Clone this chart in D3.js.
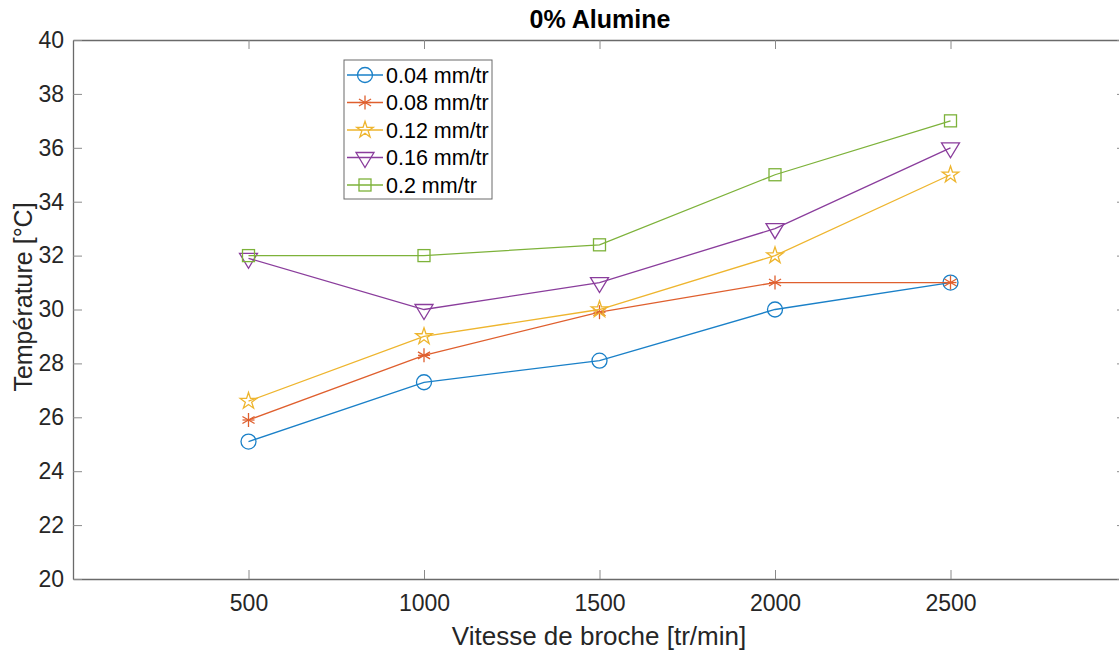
<!DOCTYPE html>
<html>
<head>
<meta charset="utf-8">
<script src="https://cdnjs.cloudflare.com/ajax/libs/d3/7.8.5/d3.min.js"></script>
<style>
  body { margin: 0; background: #fff; }
  svg { font-family: "Liberation Sans", Arial, Helvetica, sans-serif; }
</style>
</head>
<body>
<div id="chart"></div>
<script>
// data
var vitesse = [500, 1000, 1500, 2000, 2500];
var avances = ["0.04 mm/tr", "0.08 mm/tr", "0.12 mm/tr", "0.16 mm/tr", "0.2 mm/tr"];
var t004 = [25.1, 27.3, 28.1, 30.0, 31.0];
var t008 = [25.9, 28.3, 29.9, 31.0, 31.0];
var t012 = [26.6, 29.0, 30.0, 32.0, 35.0];
var t016 = [31.9, 30.0, 31.0, 33.0, 36.0];
var t020 = [32.0, 32.0, 32.4, 35.0, 37.0];
var xTicks = [500, 1000, 1500, 2000, 2500];
var yTicks = [20, 22, 24, 26, 28, 30, 32, 34, 36, 38, 40];

var colors = ["#1a80c8", "#df5f2e", "#eeb52e", "#8a3d9c", "#7db23a"];
var markers = ["circle", "asterisk", "star", "triangle", "square"];

var series = [t004, t008, t012, t016, t020].map(function (vals, i) {
    return {
        name: avances[i],
        color: colors[i],
        marker: markers[i],
        values: vals.map(function (v, j) { return { x: vitesse[j], y: v }; })
    };
});

// layout
var W = 1119, H = 652;
var margin = { top: 40, left: 73 },
    width = 1053,
    height = 539;

var svg = d3.select("#chart").append("svg")
    .attr("width", W)
    .attr("height", H);

var x = d3.scaleLinear().domain([0, 3000]).range([0, width]);
var y = d3.scaleLinear().domain([20, 40]).range([height, 0]);

var g = svg.append("g")
    .attr("transform", "translate(" + margin.left + "," + margin.top + ")");

var axisColor = "#262626";
var tickLen = 9;

// axes (ticks inward, box on)
var xAxis = g.append("g")
    .attr("transform", "translate(0," + height + ")")
    .call(d3.axisBottom(x).tickValues(xTicks).tickSizeInner(-tickLen).tickSizeOuter(0)
        .tickPadding(16).tickFormat(d3.format("d")));
var xTop = g.append("g")
    .call(d3.axisTop(x).tickValues(xTicks).tickSizeInner(-tickLen).tickSizeOuter(0).tickFormat(""));
var yAxis = g.append("g")
    .call(d3.axisLeft(y).tickValues(yTicks).tickSizeInner(-tickLen).tickSizeOuter(0).tickPadding(9));
var yRight = g.append("g")
    .attr("transform", "translate(" + width + ",0)")
    .call(d3.axisRight(y).tickValues(yTicks).tickSizeInner(-tickLen).tickSizeOuter(0).tickFormat(""));

[xAxis, xTop, yAxis, yRight].forEach(function (a) {
    a.select(".domain").attr("stroke", "#6a6a6a").attr("stroke-width", 1.3);
    a.selectAll(".tick line").attr("stroke", "#8a8a8a").attr("stroke-width", 1);
    a.selectAll(".tick text")
        .attr("fill", axisColor)
        .style("font-size", "23px");
});

// marker drawing
var star = d3.symbol().type(d3.symbolStar).size(85);
function drawMarker(sel, type, color) {
    if (type === "circle") {
        sel.append("circle").attr("r", 7.5)
            .attr("fill", "none").attr("stroke", color).attr("stroke-width", 1.3);
    } else if (type === "square") {
        sel.append("rect").attr("x", -6).attr("y", -6).attr("width", 12).attr("height", 12)
            .attr("fill", "none").attr("stroke", color).attr("stroke-width", 1.3);
    } else if (type === "triangle") {
        sel.append("path").attr("d", "M-9,-5L9,-5L0,10Z")
            .attr("fill", "none").attr("stroke", color).attr("stroke-width", 1.3);
    } else if (type === "star") {
        sel.append("path").attr("d", star())
            .attr("fill", "none").attr("stroke", color).attr("stroke-width", 1.3);
    } else if (type === "asterisk") {
        [0, 60, 120].forEach(function (a) {
            sel.append("line").attr("x1", 0).attr("y1", -7).attr("x2", 0).attr("y2", 7)
                .attr("transform", "rotate(" + a + ")")
                .attr("stroke", color).attr("stroke-width", 1.3);
        });
        sel.append("line").attr("x1", -6).attr("y1", 0).attr("x2", 6).attr("y2", 0)
            .attr("stroke", color).attr("stroke-width", 1.3);
    }
}

// lines and markers
var line = d3.line()
    .x(function (d) { return x(d.x); })
    .y(function (d) { return y(d.y); });

series.forEach(function (s) {
    g.append("path")
        .datum(s.values)
        .attr("d", line)
        .attr("fill", "none")
        .attr("stroke", s.color)
        .attr("stroke-width", 1.3);
    s.values.forEach(function (d) {
        var m = g.append("g")
            .attr("transform", "translate(" + x(d.x) + "," + y(d.y) + ")");
        drawMarker(m, s.marker, s.color);
    });
});

// title and labels
svg.append("text")
    .attr("x", 600).attr("y", 28)
    .attr("text-anchor", "middle")
    .style("font-size", "25px").style("font-weight", "bold")
    .attr("fill", "#000")
    .text("0% Alumine");

svg.append("text")
    .attr("x", 599).attr("y", 645)
    .attr("text-anchor", "middle")
    .style("font-size", "26px")
    .attr("fill", axisColor)
    .text("Vitesse de broche [tr/min]");

svg.append("text")
    .attr("transform", "translate(32,297) rotate(-90)")
    .attr("text-anchor", "middle")
    .style("font-size", "25px")
    .attr("fill", axisColor)
    .text("Température [°C]");

// legend
var legend = svg.append("g").attr("transform", "translate(344,60)");
legend.append("rect")
    .attr("width", 148).attr("height", 139)
    .attr("fill", "#fff").attr("stroke", "#6a6a6a").attr("stroke-width", 1);

series.forEach(function (s, i) {
    var row = legend.append("g").attr("transform", "translate(0," + (15 + i * 27.5) + ")");
    row.append("line").attr("x1", 3).attr("x2", 39).attr("y1", 0).attr("y2", 0)
        .attr("stroke", s.color).attr("stroke-width", 1.3);
    drawMarker(row.append("g").attr("transform", "translate(21,0)"), s.marker, s.color);
    row.append("text")
        .attr("x", 42).attr("y", 0).attr("dy", "0.36em")
        .style("font-size", "21.5px")
        .attr("fill", "#000")
        .text(s.name);
});
</script>
</body>
</html>
